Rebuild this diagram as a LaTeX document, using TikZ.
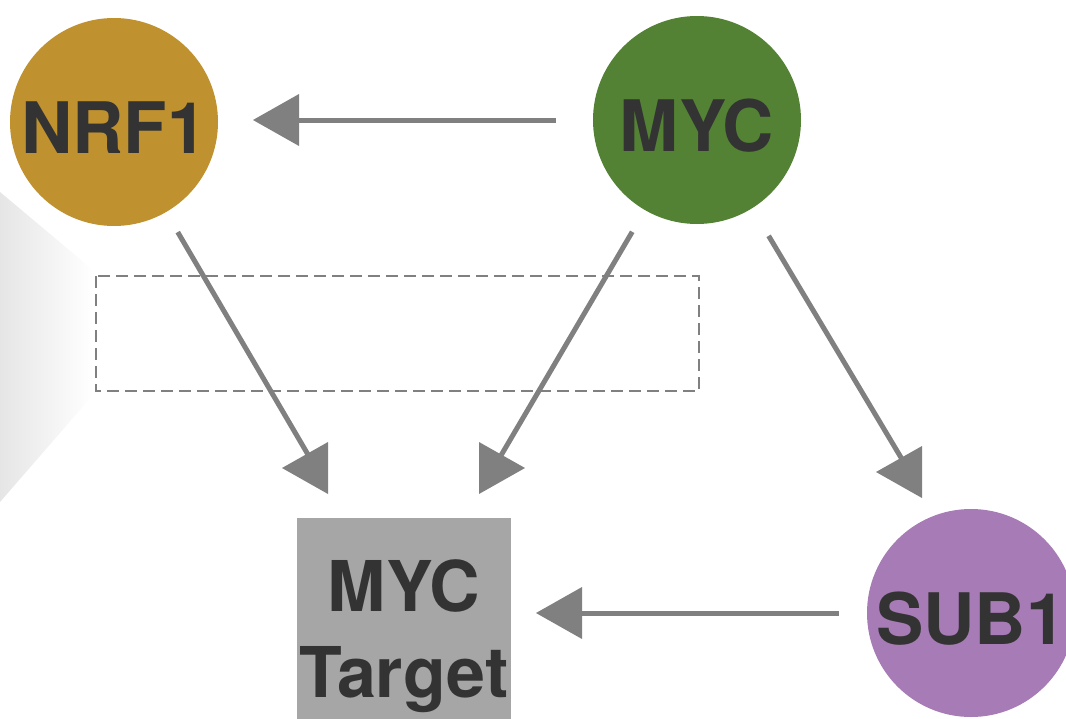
\documentclass[tikz,border=0pt]{standalone}
\usepackage{fontspec}
\setmainfont{TeX Gyre Heros}
\usetikzlibrary{calc}
\definecolor{goldc}{HTML}{BF912F}
\definecolor{greenc}{HTML}{548235}
\definecolor{purplec}{HTML}{A77BB5}
\definecolor{targetc}{HTML}{A6A6A6}
\definecolor{arrowc}{HTML}{808080}
\definecolor{textc}{HTML}{333333}
\tikzset{
  gene/.style={circle, minimum size=208pt, inner sep=0pt, text=textc,
    text height=62pt, text depth=0pt,
    font=\fontsize{71}{86}\selectfont\bfseries},
  targetbox/.style={rectangle, fill=targetc, minimum width=214pt, minimum height=236pt,
    inner sep=0pt, text=textc, align=center, font=\fontsize{70}{86}\selectfont\bfseries},
  conn/.style={draw=arrowc, line width=5pt},
  headfill/.style={fill=arrowc},
  dashbox/.style={draw=arrowc, line width=1.5pt, dash pattern=on 12pt off 6pt}
}
\newcommand\headL[1]{\fill[headfill] (#1) -- ++(46,-26) -- ++(0,52) -- cycle;}
\newcommand\headR[1]{\fill[headfill] (#1) -- ++(-46,-26) -- ++(0,52) -- cycle;}
\begin{document}
\begin{tikzpicture}[x=1pt,y=-1pt]
\useasboundingbox (0,0) rectangle (1066,718);
% background gradient shape
\shade[left color=black!10, right color=white]
  (0,192) -- (93,270) -- (93,395) -- (0,502) -- cycle;
% dashed box
\draw[dashbox] (96,276) rectangle (699,391);
% nodes
\node[gene, fill=goldc] (nrf1) at (114,122) {NRF1};
\node[gene, fill=greenc] (myc) at (697,120) {MYC};
\node[gene, fill=purplec] (sub1) at (971,613) {SUB1};
\node[targetbox] (tgt) at (404,636) {MYC\\Target};
\coordinate (n2t) at ($(tgt.north west)+(48.2,0)$);
\coordinate (m2t) at ($(tgt.north east)+(-46.8,0)$);
% connectors
\draw[conn, shorten <=37pt, shorten >=78pt] (myc.west) -- (nrf1.east |- myc.west);
\draw[conn, shorten <=23pt, shorten >=66pt] (nrf1.-60.4) -- (n2t);
\draw[conn, shorten <=25pt, shorten >=66pt] (myc.-120.9) -- (m2t);
\draw[conn, shorten <=32pt, shorten >=62pt] (myc.-58.3) -- (sub1.110.3);
\draw[conn, shorten <=28pt, shorten >=71pt] (sub1.west) -- (tgt.east |- sub1.west);
% arrowheads
\coordinate (h1) at (253,120);
\coordinate (h2) at (282,468);
\coordinate (h3) at (525,468);
\coordinate (h4) at (876,472);
\coordinate (h5) at (536,613);
\headL{h1}
\headL{h2}
\headR{h3}
\headL{h4}
\headL{h5}
\end{tikzpicture}
\end{document}
